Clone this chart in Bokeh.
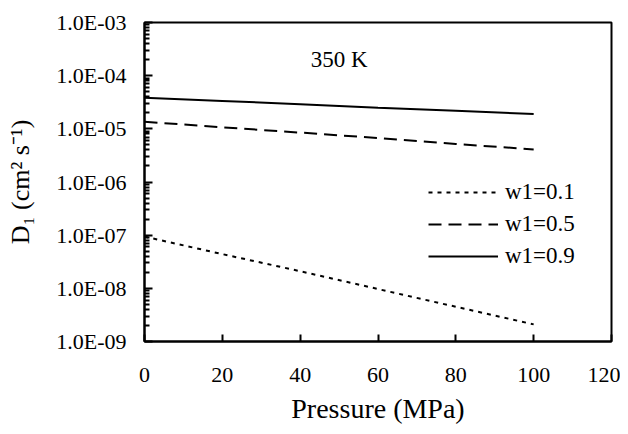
from bokeh.plotting import figure
from bokeh.models import (Range1d, FixedTicker, CustomJSTickFormatter, Legend, LegendItem, Label)
from bokeh.embed import file_html
from bokeh.resources import INLINE

# ---- data ----
pressure = [0, 20, 40, 60, 80, 100]
d1_w01 = [9.4e-8, 4.4e-8, 2.1e-8, 9.7e-9, 4.5e-9, 2.1e-9]
d1_w05 = [1.36e-5, 1.07e-5, 8.5e-6, 6.7e-6, 5.2e-6, 4.1e-6]
d1_w09 = [3.85e-5, 3.35e-5, 2.9e-5, 2.5e-5, 2.2e-5, 1.9e-5]
series_names = ["w1=0.1", "w1=0.5", "w1=0.9"]
x_ticks = [0, 20, 40, 60, 80, 100, 120]
y_exponents = [-9, -8, -7, -6, -5, -4, -3]
y_tick_labels = ["1.0E-09", "1.0E-08", "1.0E-07", "1.0E-06", "1.0E-05", "1.0E-04", "1.0E-03"]
annotation = "350 K"

FONT = "Liberation Serif"

p = figure(width=620, height=426, output_backend="svg", toolbar_location=None,
           y_axis_type="log",
           x_range=Range1d(0, 120), y_range=Range1d(1e-9, 1e-3),
           min_border_left=144, min_border_right=9, min_border_top=22, min_border_bottom=82)
p.background_fill_color = "white"
p.border_fill_color = "white"
p.grid.visible = False
p.outline_line_color = "black"
p.outline_line_width = 2

# x axis
p.xaxis.ticker = FixedTicker(ticks=x_ticks)
p.xaxis.major_tick_in = 7
p.xaxis.major_tick_out = 0
p.xaxis.minor_tick_line_color = None
p.xaxis.axis_line_width = 2
p.xaxis.major_tick_line_width = 2
p.xaxis.major_label_text_font = FONT
p.xaxis.major_label_text_font_size = "22px"
p.xaxis.major_label_text_color = "black"
p.xaxis.major_label_standoff = 26
p.xaxis.axis_label = "Pressure (MPa)"
p.xaxis.axis_label_text_font = FONT
p.xaxis.axis_label_text_font_size = "28px"
p.xaxis.axis_label_text_font_style = "normal"
p.xaxis.axis_label_text_color = "black"
p.xaxis.axis_label_standoff = 8

# y axis
decades = [10.0 ** e for e in y_exponents]
minors = [k * 10.0 ** e for e in y_exponents[:-1] for k in range(2, 10)]
p.yaxis.ticker = FixedTicker(ticks=decades, minor_ticks=minors)
p.yaxis.formatter = CustomJSTickFormatter(args=dict(labels=y_tick_labels), code="""
    const e = Math.round(Math.log10(tick));
    return labels[e + 9];
""")
p.yaxis.major_tick_in = 8
p.yaxis.major_tick_out = 0
p.yaxis.minor_tick_in = 5
p.yaxis.minor_tick_out = 0
p.yaxis.axis_line_width = 2
p.yaxis.major_tick_line_width = 2
p.yaxis.minor_tick_line_width = 2
p.yaxis.major_label_text_font = FONT
p.yaxis.major_label_text_font_size = "22px"
p.yaxis.major_label_text_color = "black"
p.yaxis.major_label_standoff = 18
p.yaxis.axis_label = "D\u2081 (cm\u00b2 s\u207b\u00b9)"
p.yaxis.axis_label_text_font = FONT
p.yaxis.axis_label_text_font_size = "26px"
p.yaxis.axis_label_text_font_style = "normal"
p.yaxis.axis_label_text_color = "black"
p.yaxis.axis_label_standoff = 18

r1 = p.line(pressure, d1_w01, line_color="black", line_width=2, line_dash="4 5")
r2 = p.line(pressure, d1_w05, line_color="black", line_width=2, line_dash="13 7")
r3 = p.line(pressure, d1_w09, line_color="black", line_width=2)

legend = Legend(items=[LegendItem(label=series_names[0], renderers=[r1]),
                       LegendItem(label=series_names[1], renderers=[r2]),
                       LegendItem(label=series_names[2], renderers=[r3])],
                location=(284, 69), orientation="vertical",
                border_line_color=None, background_fill_alpha=0,
                padding=0, margin=0, spacing=0,
                glyph_width=70, glyph_height=32, label_height=32,
                label_standoff=7,
                label_text_font=FONT, label_text_font_size="23px",
                label_text_color="black")
p.add_layout(legend, "center")

p.add_layout(Label(x=50, y=2.0e-4, text=annotation, text_align="center",
                   text_baseline="middle", text_font=FONT,
                   text_font_size="23px", text_color="black"))

open("out.html", "w").write(file_html(p, INLINE))
